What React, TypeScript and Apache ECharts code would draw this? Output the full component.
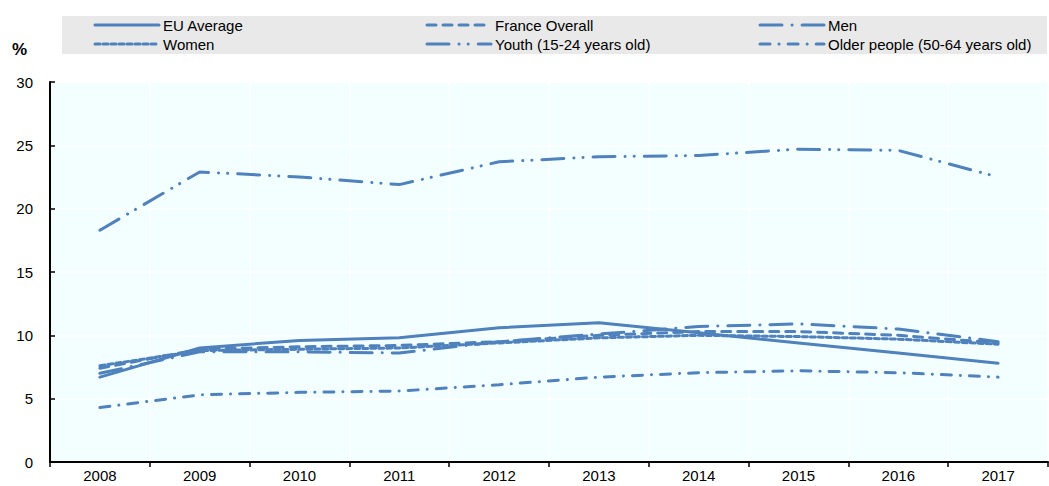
import React, { useEffect, useRef } from "react";
import * as echarts from "echarts";

const years = ["2008", "2009", "2010", "2011", "2012", "2013", "2014", "2015", "2016", "2017"];
const euAverage = [6.7, 9.0, 9.6, 9.8, 10.6, 11.0, 10.2, 9.4, 8.6, 7.8];
const franceOverall = [7.4, 8.9, 9.1, 9.2, 9.5, 10.0, 10.3, 10.3, 10.0, 9.4];
const men = [7.0, 8.7, 8.7, 8.6, 9.5, 10.1, 10.7, 10.9, 10.5, 9.5];
const women = [7.6, 8.8, 8.9, 9.0, 9.4, 9.8, 10.0, 9.9, 9.7, 9.3];
const youth = [18.3, 22.9, 22.5, 21.9, 23.7, 24.1, 24.2, 24.7, 24.6, 22.5];
const older = [4.3, 5.3, 5.5, 5.6, 6.1, 6.7, 7.05, 7.2, 7.05, 6.7];

const COLOR = "#4f81bd";

const seriesDefs = [
  { name: "EU Average", data: euAverage, dash: "solid" as any, pos: [95, 25] },
  { name: "France Overall", data: franceOverall, dash: [9, 7], pos: [427, 25] },
  { name: "Men", data: men, dash: [22, 10, 0.1, 10], pos: [760, 25] },
  { name: "Women", data: women, dash: [5, 3], pos: [95, 44] },
  { name: "Youth (15-24 years old)", data: youth, dash: [22, 10, 0.1, 9, 0.1, 10], pos: [427, 44] },
  { name: "Older people (50-64 years old)", data: older, dash: [10, 9, 0.1, 9], pos: [760, 44] },
];

export default function App() {
  const ref = useRef<HTMLDivElement>(null);
  useEffect(() => {
    if (!ref.current) return;
    const chart = echarts.init(ref.current, null, { renderer: "svg" });
    const font = "'Liberation Sans', Arial, sans-serif";
    const legendGraphics: any[] = [];
    seriesDefs.forEach((s) => {
      const [x, y] = s.pos;
      legendGraphics.push({
        type: "line",
        shape: { x1: x, y1: y, x2: x + 64, y2: y },
        style: {
          stroke: COLOR,
          lineWidth: 3,
          lineDash: s.dash === "solid" ? null : s.dash,
          lineCap: "round",
        },
      });
      legendGraphics.push({
        type: "text",
        x: x + 68,
        y: y,
        style: {
          text: s.name,
          font: `15px ${font}`,
          fill: "#000",
          textVerticalAlign: "middle",
          verticalAlign: "middle",
        },
      });
    });
    chart.setOption({
      animation: false,
      textStyle: { fontFamily: font },
      graphic: [
        {
          type: "rect",
          shape: { x: 62, y: 16, width: 985, height: 38 },
          style: { fill: "#e9e9e9" },
          z: -1,
        },
        ...legendGraphics,
        {
          type: "text",
          x: 12,
          y: 49,
          style: {
            text: "%",
            font: `bold 17px ${font}`,
            fill: "#000",
            textVerticalAlign: "middle",
            verticalAlign: "middle",
          },
        },
      ],
      grid: {
        left: 50,
        right: 1,
        top: 82,
        bottom: 24,
        show: true,
        backgroundColor: "#f3ffff",
        borderWidth: 0,
      },
      xAxis: {
        type: "category",
        data: years,
        boundaryGap: true,
        axisLine: { show: true, lineStyle: { color: "#000", width: 2 } },
        axisTick: { show: true, inside: false, length: 5, lineStyle: { color: "#000", width: 1.5 } },
        axisLabel: { color: "#000", fontSize: 15, margin: 6 },
        splitLine: { show: true, lineStyle: { color: "#ffffff", width: 1.5 } },
      },
      yAxis: {
        type: "value",
        min: 0,
        max: 30,
        interval: 5,
        axisLine: { show: true, lineStyle: { color: "#000", width: 2 } },
        axisTick: { show: true, inside: true, length: 5, lineStyle: { color: "#000", width: 1.5 } },
        axisLabel: { color: "#000", fontSize: 15, margin: 17 },
        splitLine: { show: true, lineStyle: { color: "#ffffff", width: 1.5 } },
      },
      series: seriesDefs.map((s) => ({
        name: s.name,
        type: "line",
        data: s.data,
        symbol: "none",
        showSymbol: false,
        lineStyle: { color: COLOR, width: 3, type: s.dash, cap: "round" },
        itemStyle: { color: COLOR },
      })),
    });
    return () => chart.dispose();
  }, []);
  return (
    <div
      ref={ref}
      style={{ position: "absolute", left: 0, top: 0, width: 1049, height: 486 }}
    />
  );
}
